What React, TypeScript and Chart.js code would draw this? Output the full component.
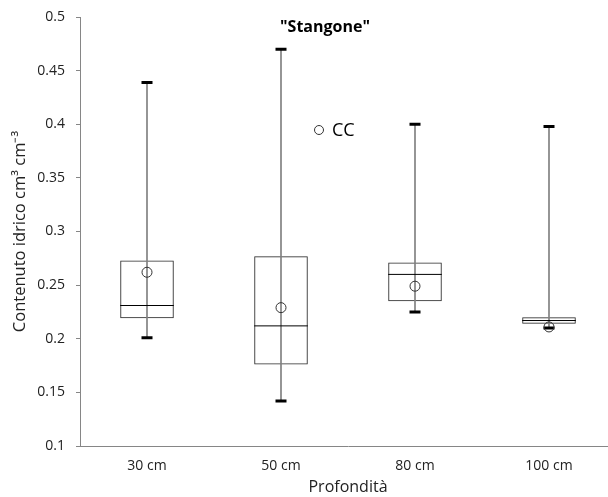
import React, { useEffect, useRef } from "react";
import { Chart, registerables } from "chart.js";

Chart.register(...registerables);

const categories = ["30 cm", "50 cm", "80 cm", "100 cm"];
const whiskerMin = [0.201, 0.142, 0.225, 0.21];
const q1 = [0.219, 0.176, 0.235, 0.214];
const median = [0.231, 0.212, 0.26, 0.217];
const q3 = [0.273, 0.277, 0.271, 0.22];
const whiskerMax = [0.439, 0.47, 0.4, 0.398];
const cc = [0.262, 0.229, 0.249, 0.211];

const titleText = '"Stangone"';
const yTitle = "Contenuto idrico cm\u00B3 cm\u207B\u00B3";
const xTitle = "Profondità";
const ccLabel = "CC";

const FONT = "'Open Sans', 'Liberation Sans', sans-serif";

const overlayPlugin = {
  id: "overlay",
  afterDraw(chart: any) {
    const ctx = chart.ctx;
    ctx.save();
    ctx.fillStyle = "#000";
    ctx.font = `bold 16px ${FONT}`;
    ctx.textAlign = "center";
    ctx.textBaseline = "middle";
    ctx.fillText(titleText, 325, 27);
    ctx.beginPath();
    ctx.arc(319, 130, 4.5, 0, Math.PI * 2);
    ctx.strokeStyle = "#333";
    ctx.lineWidth = 1;
    ctx.stroke();
    ctx.font = `18px ${FONT}`;
    ctx.textAlign = "left";
    ctx.fillText(ccLabel, 332, 131);
    ctx.restore();
  },
};

export default function App() {
  const ref = useRef<HTMLCanvasElement>(null);
  useEffect(() => {
    if (!ref.current) return;
    const chart = new Chart(ref.current, {
      type: "bar",
      data: {
        labels: categories,
        datasets: [
          {
            type: "line",
            label: ccLabel,
            data: cc,
            showLine: false,
            pointStyle: "circle",
            pointRadius: 5,
            pointBorderWidth: 1,
            pointBorderColor: "#333",
            pointBackgroundColor: "rgba(0,0,0,0)",
            order: 0,
          } as any,
          {
            type: "line",
            label: "max",
            data: whiskerMax,
            showLine: false,
            pointStyle: "line",
            pointRadius: 5.5,
            pointBorderWidth: 3,
            pointBorderColor: "#000",
            order: 1,
          } as any,
          {
            type: "line",
            label: "min",
            data: whiskerMin,
            showLine: false,
            pointStyle: "line",
            pointRadius: 5.5,
            pointBorderWidth: 3,
            pointBorderColor: "#000",
            order: 1,
          } as any,
          {
            type: "line",
            label: "median",
            data: median,
            showLine: false,
            pointStyle: "line",
            pointRadius: 26.8,
            pointBorderWidth: 1,
            pointBorderColor: "#000",
            order: 2,
          } as any,
          {
            type: "bar",
            label: "whisker",
            data: categories.map((_, i) => [whiskerMin[i], whiskerMax[i]]),
            backgroundColor: "#808080",
            borderWidth: 0,
            barThickness: 1,
            grouped: false,
            order: 3,
          } as any,
          {
            type: "bar",
            label: "box",
            data: categories.map((_, i) => [q1[i], q3[i]]),
            backgroundColor: "rgba(0,0,0,0)",
            borderColor: "#262626",
            borderWidth: 1,
            borderSkipped: false,
            barPercentage: 0.4,
            categoryPercentage: 1,
            grouped: false,
            order: 4,
          } as any,
        ],
      },
      options: {
        responsive: false,
        animation: false,
        layout: { autoPadding: false, padding: { top: 17, right: 0, left: 0, bottom: 0 } },
        plugins: {
          legend: { display: false },
          tooltip: { enabled: false },
          title: { display: false },
        },
        scales: {
          x: {
            offset: true,
            grid: { display: true, drawOnChartArea: false, drawTicks: false, color: "#868686" },
            border: { color: "#868686", width: 1 },
            ticks: { font: { family: FONT, size: 14 }, color: "#222", padding: 12, maxRotation: 0 },
            title: {
              display: true,
              text: xTitle,
              font: { family: FONT, size: 16 },
              color: "#222",
              padding: { top: 0, bottom: 0 },
            },
            afterFit(scale: any) {
              scale.height = 51;
              scale.paddingLeft = 0;
              scale.paddingRight = 0;
              scale.paddingTop = 0;
              scale.paddingBottom = 0;
            },
          },
          y: {
            min: 0.1,
            max: 0.5,
            grid: { drawOnChartArea: false, drawTicks: true, tickLength: 4, color: "#868686" },
            border: { color: "#868686", width: 1 },
            ticks: {
              stepSize: 0.05,
              font: { family: FONT, size: 14 },
              color: "#222",
              padding: 11,
              callback: (v: any) => String(Math.round(Number(v) * 100) / 100),
            },
            title: {
              display: true,
              text: yTitle,
              font: { family: FONT, size: 16.5 },
              color: "#222",
              padding: { top: 10, bottom: 0 },
            },
            afterFit(scale: any) {
              scale.width = 80;
              scale.paddingLeft = 0;
              scale.paddingRight = 0;
              scale.paddingTop = 0;
              scale.paddingBottom = 0;
            },
          },
        },
      } as any,
      plugins: [overlayPlugin],
    });
    return () => chart.destroy();
  }, []);

  return (
    <div
      style={{
        position: "fixed",
        left: 0,
        top: 0,
        width: 608,
        height: 497,
        overflow: "hidden",
        background: "#fff",
      }}
    >
      <canvas ref={ref} width={616} height={497} style={{ display: "block", width: 616, height: 497 }} />
    </div>
  );
}
